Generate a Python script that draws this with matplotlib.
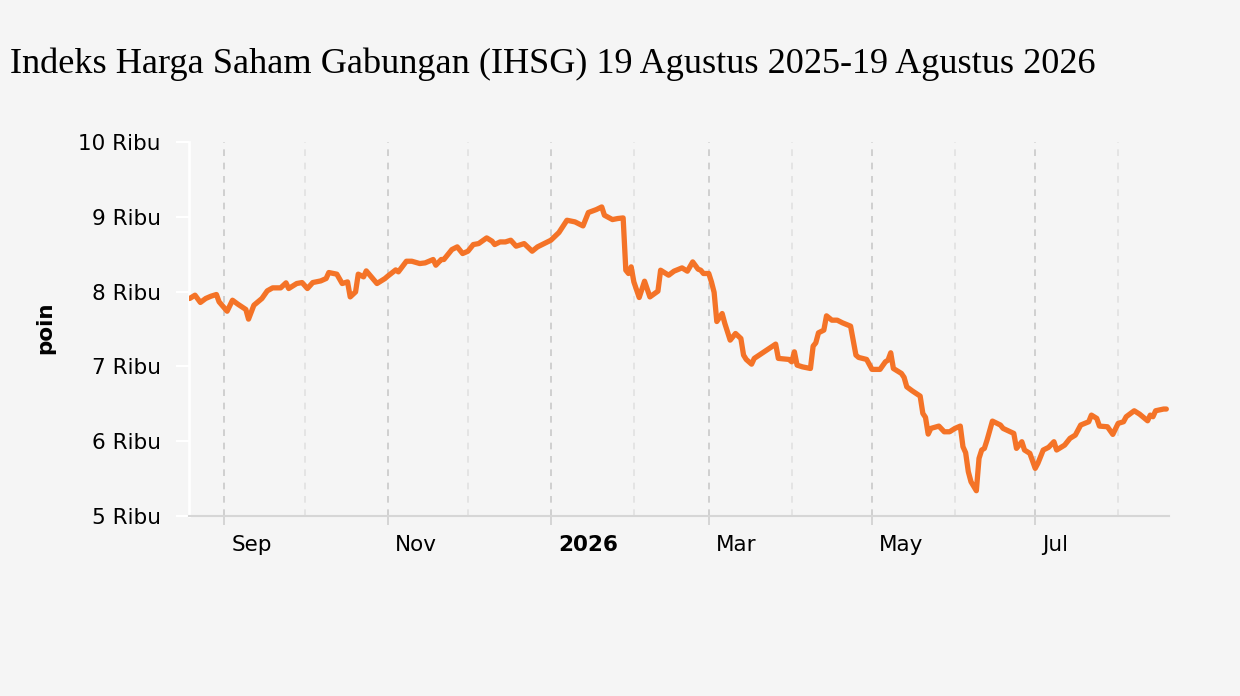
import matplotlib
matplotlib.use('Agg')
import matplotlib.pyplot as plt
import matplotlib.transforms as mtransforms
import pandas as pd

# IHSG closing values (points)
dates = [
    '2025-08-19', '2025-08-21', '2025-08-23', '2025-08-25', '2025-08-27', '2025-08-29', '2025-08-30',
    '2025-09-02', '2025-09-04', '2025-09-06', '2025-09-09', '2025-09-10', '2025-09-12', '2025-09-15',
    '2025-09-17', '2025-09-19', '2025-09-22', '2025-09-24', '2025-09-25', '2025-09-28', '2025-09-30',
    '2025-10-02', '2025-10-04', '2025-10-07', '2025-10-09', '2025-10-10', '2025-10-13', '2025-10-15',
    '2025-10-17', '2025-10-18', '2025-10-20', '2025-10-21', '2025-10-23', '2025-10-24', '2025-10-28',
    '2025-10-31', '2025-11-01', '2025-11-04', '2025-11-05', '2025-11-08', '2025-11-10', '2025-11-13',
    '2025-11-15', '2025-11-18', '2025-11-19', '2025-11-21', '2025-11-22', '2025-11-25', '2025-11-27',
    '2025-11-29', '2025-12-01', '2025-12-03', '2025-12-05', '2025-12-08', '2025-12-10', '2025-12-11',
    '2025-12-13', '2025-12-15', '2025-12-17', '2025-12-19', '2025-12-22', '2025-12-25', '2025-12-27',
    '2025-12-30', '2026-01-01', '2026-01-04', '2026-01-07', '2026-01-10', '2026-01-13', '2026-01-15',
    '2026-01-18', '2026-01-20', '2026-01-21', '2026-01-24', '2026-01-26', '2026-01-28', '2026-01-29',
    '2026-01-30', '2026-01-31', '2026-02-01', '2026-02-03', '2026-02-05', '2026-02-07', '2026-02-10',
    '2026-02-11', '2026-02-14', '2026-02-16', '2026-02-19', '2026-02-21', '2026-02-23', '2026-02-25',
    '2026-02-26', '2026-02-27', '2026-03-01', '2026-03-02', '2026-03-03', '2026-03-04', '2026-03-06',
    '2026-03-07', '2026-03-08', '2026-03-09', '2026-03-11', '2026-03-13', '2026-03-14', '2026-03-15',
    '2026-03-17', '2026-03-18', '2026-03-26', '2026-03-27', '2026-03-31', '2026-04-01', '2026-04-02',
    '2026-04-03', '2026-04-05', '2026-04-08', '2026-04-09', '2026-04-10', '2026-04-11', '2026-04-13',
    '2026-04-14', '2026-04-16', '2026-04-18', '2026-04-20', '2026-04-23', '2026-04-25', '2026-04-26',
    '2026-04-29', '2026-05-01', '2026-05-04', '2026-05-06', '2026-05-07', '2026-05-08', '2026-05-09',
    '2026-05-12', '2026-05-13', '2026-05-14', '2026-05-16', '2026-05-19', '2026-05-20', '2026-05-21',
    '2026-05-22', '2026-05-23', '2026-05-26', '2026-05-28', '2026-05-30', '2026-06-01', '2026-06-03',
    '2026-06-04', '2026-06-05', '2026-06-06', '2026-06-07', '2026-06-09', '2026-06-10', '2026-06-11',
    '2026-06-12', '2026-06-13', '2026-06-15', '2026-06-18', '2026-06-19', '2026-06-23', '2026-06-24',
    '2026-06-26', '2026-06-27', '2026-06-29', '2026-07-01', '2026-07-02', '2026-07-04', '2026-07-06',
    '2026-07-08', '2026-07-09', '2026-07-12', '2026-07-14', '2026-07-16', '2026-07-18', '2026-07-21',
    '2026-07-22', '2026-07-24', '2026-07-25', '2026-07-28', '2026-07-30', '2026-08-01', '2026-08-03',
    '2026-08-04', '2026-08-07', '2026-08-09', '2026-08-12', '2026-08-13', '2026-08-14', '2026-08-15',
    '2026-08-18', '2026-08-19',
]
values = [
    7908, 7952, 7855, 7908, 7939, 7961, 7863,
    7738, 7885, 7832, 7761, 7632, 7818, 7908,
    8010, 8050, 8050, 8117, 8041, 8108, 8121,
    8041, 8121, 8143, 8175, 8255, 8233, 8108,
    8130, 7929, 7996, 8233, 8197, 8277, 8108,
    8175, 8206, 8290, 8264, 8406, 8406, 8375,
    8384, 8429, 8353, 8429, 8429, 8562, 8598,
    8509, 8540, 8629, 8642, 8718, 8674, 8629,
    8664, 8664, 8687, 8607, 8642, 8540, 8598,
    8651, 8687, 8790, 8954, 8932, 8878, 9057,
    9097, 9132, 9021, 8963, 8977, 8985, 8286,
    8242, 8331, 8130, 7921, 8139, 7929, 8006,
    8286, 8219, 8273, 8317, 8273, 8397, 8300,
    8286, 8242, 8242, 8130, 7990, 7600, 7707,
    7574, 7462, 7351, 7440, 7373, 7151, 7093,
    7030, 7107, 7298, 7107, 7093, 7061, 7195,
    7017, 6994, 6972, 7271, 7315, 7449, 7485,
    7676, 7618, 7618, 7582, 7538, 7151, 7120,
    7093, 6960, 6960, 7061, 7084, 7182, 6972,
    6906, 6853, 6727, 6674, 6603, 6372, 6318,
    6095, 6171, 6202, 6126, 6126, 6171, 6202,
    5926, 5846, 5592, 5458, 5338, 5770, 5882,
    5904, 6015, 6269, 6216, 6171, 6104, 5904,
    5993, 5882, 5837, 5637, 5704, 5882, 5918,
    5993, 5882, 5948, 6038, 6082, 6216, 6260,
    6349, 6305, 6202, 6193, 6091, 6238, 6260,
    6327, 6407, 6362, 6273, 6349, 6327, 6407,
    6430, 6430,
]

major_ticks = pd.date_range('2025-09-01', '2026-07-01', freq='2MS')
major_labels = ['Sep', 'Nov', '2026', 'Mar', 'May', 'Jul']
minor_ticks = pd.date_range('2025-10-01', '2026-08-01', freq='2MS')
y_ticks = [5000, 6000, 7000, 8000, 9000, 10000]
y_labels = ['5 Ribu', '6 Ribu', '7 Ribu', '8 Ribu', '9 Ribu', '10 Ribu']

bg = '#f5f5f5'
fig = plt.figure(figsize=(12.4, 6.96), dpi=100, facecolor=bg)
ax = fig.add_axes([189 / 1240, 1 - 516 / 696, 980 / 1240, 374 / 696], facecolor=bg)

x = pd.to_datetime(dates)
ax.plot(x, values, color='#f47327', lw=3.8, solid_joinstyle='round',
        solid_capstyle='round', zorder=3)

ax.set_xlim(pd.Timestamp('2025-08-18 18:00'), pd.Timestamp('2026-08-20'))
ax.set_ylim(5000, 10000)

# x axis: labelled months every two months, lighter grid in between
ax.set_xticks(major_ticks)
ax.set_xticklabels(major_labels)
ax.set_xticks(minor_ticks, minor=True)
ax.grid(True, axis='x', which='major', color='#c9c9c9', linestyle=(0, (4, 4)), linewidth=1.2)
ax.grid(True, axis='x', which='minor', color='#e1e1e1', linestyle=(0, (4, 4)), linewidth=1.2)
ax.grid(False, axis='y')
ax.set_axisbelow(True)
ax.tick_params(axis='x', which='major', length=6.5, width=1.2, color='#cfcfcf',
               labelsize=15.5, pad=7)
ax.tick_params(axis='x', which='minor', length=0)

offset = mtransforms.ScaledTranslation(7 / 100, 0, fig.dpi_scale_trans)
for i, lab in enumerate(ax.get_xticklabels()):
    lab.set_horizontalalignment('left')
    lab.set_transform(lab.get_transform() + offset)
    if major_labels[i] == '2026':
        lab.set_fontweight('bold')

# y axis
ax.set_yticks(y_ticks)
ax.set_yticklabels(y_labels)
ax.tick_params(axis='y', length=9.4, width=1.5, color='white', labelsize=15.5, pad=11)
ax.set_ylabel('poin', fontsize=15.5, fontweight='bold')
ax.yaxis.set_label_coords(-0.136, 0.503)

for side in ['top', 'right']:
    ax.spines[side].set_visible(False)
ax.spines['left'].set_color('white')
ax.spines['left'].set_linewidth(2)
ax.spines['bottom'].set_color('#d6d6d6')
ax.spines['bottom'].set_linewidth(1.5)

fig.text(10 / 1240, 1 - 73 / 696,
         'Indeks Harga Saham Gabungan (IHSG) 19 Agustus 2025-19 Agustus 2026',
         family='Liberation Serif', fontsize=26.1, va='baseline', ha='left', color='black')

plt.savefig('out.png', dpi=100, facecolor=bg)
plt.close()
